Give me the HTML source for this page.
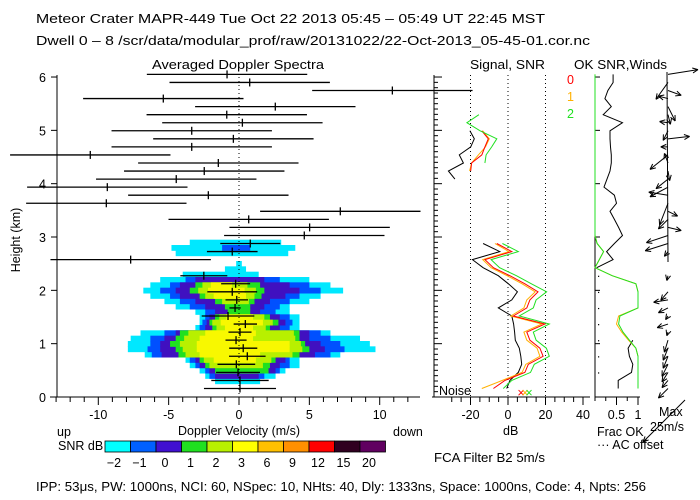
<!DOCTYPE html>
<html><head><meta charset="utf-8"><style>
body{margin:0;background:#fff}
svg{display:block;font-family:"Liberation Sans",sans-serif}
text{font-size:12.5px;fill:#000}
</style></head><body>
<svg id="c" width="700" height="500" viewBox="0 0 700 500">
<rect width="700" height="500" fill="#fff"/>
<text x="36" y="23" textLength="509" lengthAdjust="spacingAndGlyphs">Meteor Crater  MAPR-449  Tue Oct 22 2013 05:45 – 05:49 UT 22:45 MST</text>
<text x="36" y="45" textLength="554" lengthAdjust="spacingAndGlyphs">Dwell  0 –  8   /scr/data/modular_prof/raw/20131022/22-Oct-2013_05-45-01.cor.nc</text>
<text x="152" y="69" textLength="172" lengthAdjust="spacingAndGlyphs">Averaged Doppler Spectra</text>
<text x="470" y="69" textLength="75" lengthAdjust="spacingAndGlyphs">Signal, SNR</text>
<text x="574" y="69" textLength="93" lengthAdjust="spacingAndGlyphs">OK SNR,Winds</text>
<g id="heat"></g>
<g id="axes"></g>
<g id="bars"></g>
<g id="sig"></g>
<g id="wind"></g>
<g id="cbar"></g>
<text x="20" y="240" transform="rotate(-90 20 240)" text-anchor="middle">Height (km)</text>
<text x="178" y="435" textLength="122" lengthAdjust="spacingAndGlyphs">Doppler Velocity (m/s)</text>
<text x="57" y="436">up</text>
<text x="393" y="436">down</text>
<text x="58" y="450">SNR dB</text>
<text x="503" y="435">dB</text>
<text x="597" y="436">Frac OK</text>
<text x="597" y="449">··· AC offset</text>
<text x="659" y="416">Max</text>
<text x="650" y="431">25m/s</text>
<text x="434" y="462" textLength="111" lengthAdjust="spacingAndGlyphs">FCA Filter B2  5m/s</text>
<text x="36" y="491" textLength="610" lengthAdjust="spacingAndGlyphs">IPP:  53μs,  PW: 1000ns,  NCI:  60,  NSpec: 10, NHts: 40,  Dly: 1333ns,  Space: 1000ns,  Code: 4,  Npts: 256</text>
<text x="439" y="395">Noise</text>
<text x="567" y="84" style="fill:#f00">0</text>
<text x="567" y="101" style="fill:#ffb000">1</text>
<text x="567" y="118" style="fill:#20e020">2</text>
</svg>
<script>
// ---- data ----
const barCenter=[0.07,0.07,-0.07,-0.19,0.59,0.3,-0.21,0.07,0.45,-0.78,-0.28,-0.16,-0.48,-0.24,-2.5,null,-7.7,-0.48,0.8,4.64,5.02,0.69,7.2,-9.43,-2.18,-9.36,-4.46,-2.47,-1.47,-10.57,-3.36,-0.4,-3.36,0.24,-0.87,2.58,-5.38,10.9,0.76,-0.85];
const barHalf=[2.56,2.04,1.56,1.34,1.3,1.0,0.75,0.82,0.83,1.87,0.4,0.8,1.77,1.03,1.67,null,5.7,1.8,2.13,5.7,5.7,5.7,5.7,5.7,5.7,5.7,5.7,5.7,5.7,5.7,5.7,5.7,5.7,5.7,5.7,5.7,5.7,5.7,5.7,5.7];
const heatRows=[2.9,2.8,2.7,2.5,2.4,2.3,2.2,2.1,2.0,1.9,1.8,1.7,1.6,1.5,1.4,1.3,1.2,1.1,1.0,0.9,0.8,0.7,0.6,0.5,0.4,0.3];
const heatCyan=[[-3.5,3.0],[-4.8,4.0],[-4.5,3.5],[-0.2,0.2],[-1,0.5],[-4.0,1.4],[-5.6,5.0],[-6.3,6.5],[-6.8,7.4],[-6.3,5.8],[-5.3,5.0],[-4.5,3.6],[-3.1,3.6],[-2.8,4.3],[-2.8,4.3],[-3.1,4.3],[-7.0,6.5],[-7.7,8.6],[-7.9,9.3],[-7.9,9.7],[-6.7,7.2],[-3.8,4.3],[-3.5,4.3],[-2.8,3.3],[-2.4,2.6],[-1.7,1.5]];
const heatBlue=[null,[-1.2,0.8],null,null,null,null,[-3.8,2.9],[-4.9,5.0],[-5.6,5.8],[-4.9,4.3],[-4.2,3.6],[-3.5,2.9],[-2.4,2.6],[-2.4,3.6],[-2.6,3.8],[-2.8,3.6],[-5.3,5.8],[-6.3,6.5],[-6.3,7.2],[-6.5,7.5],[-6.2,6.5],[-3.5,3.6],[-3.1,3.6],[-2.4,2.9],[-2.1,1.8],null];
const heatPurple=[null,null,null,null,null,null,[-3.1,1.8],[-4.2,3.6],[-4.5,4.3],[-4.2,3.3],[-3.1,2.2],[-2.4,1.8],[-1.7,1.5],[-2.1,2.9],[-2.3,3.3],[-2.4,2.9],[-4.5,5.0],[-5.3,5.0],[-5.6,5.8],[-5.6,6.1],[-5.5,5.4],[-3.1,3.3],[-2.8,2.9],[-2.1,2.6],[-1.7,1.4],null];
const heatGreen=[null,null,null,null,null,null,null,[-3.1,1.5],[-3.5,1.8],[-2.8,1.6],[-1.7,1.1],[-1.0,0.8],[-0.8,0.8],[-1.7,2.2],[-2.1,2.8],[-1.9,2.2],[-4.2,4.3],[-4.5,4.3],[-4.9,4.7],[-4.5,5.0],[-4.3,4.3],[-2.8,2.6],[-2.4,2.2],[-1.7,2.1],null,null];
const heatLime=[null,null,null,null,null,null,null,[-2.6,0.6],[-2.9,1.2],[-2.4,1.1],[-1.2,0.7],null,null,[-1.4,1.8],[-1.9,2.4],[-1.6,1.9],[-3.6,3.9],[-3.9,4.0],[-4.2,4.4],[-4.0,4.5],[-3.8,3.8],[-2.5,2.3],[-2.1,1.7],null,null,null];
const heatYellow=[null,null,null,null,null,null,null,[-2.0,-0.5],[-2.2,0.4],[-1.8,0.5],null,null,null,[-0.9,1.0],[-1.3,1.7],[-1.0,1.0],[-2.4,1.2],[-2.8,1.0],[-3.0,3.6],[-3.0,3.6],[-2.8,1.5],[-1.8,1.2],null,null,null,null];
const N=null;
const sigBlack=[-0.7,1,5.5,7.3,6.8,6,3.9,3.5,3,2,-5.2,2,5,0.2,-5.2,-13.3,-19,-4.4,-13.3,N,N,N,N,N,N,N,-28.3,-31.8,-23.8,-26,-19.9,-18,-20.3,N,N,N,N,N,N,N];
const snrRed=[-7.8,-1.6,9,10.8,18.7,17,11.7,10,19.7,2.8,10,11.7,16,9,1,-7.8,-12.3,2,-6,N,N,N,N,N,N,N,N,-19.9,-19.4,-14,-12.3,-10.5,-14,N,N,N,N,N,N,N];
const snrOrange=[-14,-3,7.5,9.5,17,15.5,10,8.5,18,1.5,8.5,10,14.5,7.5,-0.5,-9,-13.5,0.5,-7,N,N,N,N,N,N,N,N,-20.5,-19.4,-15.8,-12,-10,-13.5,N,N,N,N,N,N,N];
const snrGreen=[-2.5,2,12,14,22,20.5,15,13.5,22,6,13.5,15,20.6,12.5,4.5,-4.5,-9,5.5,-3,N,N,N,N,N,N,N,N,N,-12.3,-11.7,-8.7,-6,-14.9,-21.9,-15.5,N,N,N,N,N];
const fracBlack=[0.54,0.54,0.85,0.88,0.8,0.77,0.88,N,N,N,N,N,N,N,N,0.04,0.42,0.27,0.45,0.64,0.55,0.45,0.35,0.5,0.45,0.21,0.28,0.35,0.38,0.38,0.36,0.35,0.35,0.64,0.19,0.38,0.23,0.3,0.42,0.42];
const fracGreen=[1,1,1,1,1,0.95,0.8,0.65,0.55,0.58,1,1,1,0.95,0.4,0,0.1,0.2,0.05,0,0,0,0,0,0,0,0,0,0,0,0,0,0,0,0,0,0,0,0,0];
const fracOrange=[1,1,1,1,1,0.95,0.78,0.62,0.5,0.55,1,1,1,0.95,0.4,0,0.1,0.2,0.05,0,0,0,0,0,0,0,0,0,0,0,0,0,0,0,0,0,0,0,0,0];
const windU=[-4,-2.5,-2.5,-2.5,-2,-2,-1.5,-0.5,-4.5,-1,-4,-6,-3,N,-0.5,N,N,-1.5,-9.5,-9,5.5,-4,4,-3.5,-8,-7.5,-5,0.7,-1.5,-7.5,-3,9,-2,-3.5,1,3,-4,5.5,-5,12.5];
const windV=[-4,-3,-4,-5,-5,-5,-5,-1.5,-1.5,-1.5,-2,-1,-3.5,N,-2,N,N,-2,-3,-3,-1.3,-4,-2,-9,1.3,-4,-4,-4,4,-6,0,1,-4,0.5,-4,-6,1,-2,-7,2];
const paletteLabels=["−2","−1","0","1","2","3","6","9","12","15","20"];
const paletteColors=["#00ffff","#0060ff","#4010d0","#20e020","#b8f000","#ffff00","#ffc000","#ff9000","#ff0000","#300020","#600060"];
const velTicks=[-10,-5,0,5,10];
const heightTicks=[0,1,2,3,4,5,6];
const dbTicks=[-20,0,20,40];
// ---- scales ----
const X=v=>239+v*14.07, Y=h=>397-h*53.33, H=i=>0.16+0.151*i;
const D=d=>508+d*1.875, F=f=>595+f*43;
const NS="http://www.w3.org/2000/svg";
function mk(p,t,a){const e=document.createElementNS(NS,t);for(const k in a)e.setAttribute(k,a[k]);p.appendChild(e);return e;}
const heat=document.getElementById('heat'),axes=document.getElementById('axes'),bars=document.getElementById('bars'),sig=document.getElementById('sig'),wind=document.getElementById('wind'),cbar=document.getElementById('cbar');
// heatmap
const levels=[[heatCyan,"#00e8ff"],[heatBlue,"#0050ff"],[heatPurple,"#4010c0"],[heatGreen,"#20e020"],[heatLime,"#b8f000"],[heatYellow,"#f8f800"]];
levels.forEach(([arr,col])=>{arr.forEach((r,k)=>{if(!r)return;const h=heatRows[k];
 const e=mk(heat,'rect',{x:X(r[0]),y:Y(h+0.05),width:X(r[1])-X(r[0]),height:53.33*0.1+0.5,fill:col});
 
 });});
// axes main
mk(axes,'line',{x1:57,y1:75,x2:57,y2:397,stroke:'#000'});
mk(axes,'line',{x1:50,y1:397,x2:420,y2:397,stroke:'#000'});
mk(axes,'line',{x1:239,y1:77,x2:239,y2:397,stroke:'#000','stroke-dasharray':'1,3'});
for(let v=-13;v<=12;v++){mk(axes,'line',{x1:X(v),y1:397,x2:X(v),y2:v%5==0?405:402,stroke:'#000'});}
velTicks.forEach(v=>{const t=mk(axes,'text',{x:X(v),y:419,'text-anchor':'middle'});t.textContent=v;
 
 });
heightTicks.forEach(h=>{mk(axes,'line',{x1:51,y1:Y(h),x2:57,y2:Y(h),stroke:'#000'});
 const t=mk(axes,'text',{x:46,y:Y(h)+5,'text-anchor':'end'});t.textContent=h;
 
 });
// error bars
barCenter.forEach((c,i)=>{if(c===null)return;const y=Y(H(i));
 const g=mk(bars,'g',{});
 
 
 mk(g,'line',{x1:Math.max(0,X(c-barHalf[i])),y1:y,x2:X(c+barHalf[i]),y2:y,stroke:'#000','stroke-width':1.3});
 mk(g,'line',{x1:X(c),y1:y-4,x2:X(c),y2:y+4,stroke:'#000','stroke-width':1.3});});
// signal panel
mk(sig,'line',{x1:434,y1:75,x2:434,y2:397,stroke:'#000'});
mk(sig,'line',{x1:432,y1:397,x2:590,y2:397,stroke:'#000'});
for(let h=0;h<=6.01;h+=0.1){const maj=Math.abs(h-Math.round(h))<0.01;mk(sig,'line',{x1:434,y1:Y(h),x2:maj?442:438,y2:Y(h),stroke:'#000'});}
for(let d=-30;d<=40;d+=5){mk(sig,'line',{x1:D(d),y1:397,x2:D(d),y2:d%20==0?405:402,stroke:'#000'});}
dbTicks.forEach(d=>{if(d<40)mk(sig,'line',{x1:D(d),y1:75,x2:D(d),y2:397,stroke:'#000','stroke-dasharray':'1,3'});
 const t=mk(sig,'text',{x:D(d),y:419,'text-anchor':'middle'});t.textContent=d;
 
 });
function series(par,arr,sx,col,name){let d='',pen=false;arr.forEach((v,i)=>{if(v===null){pen=false;return;}d+=(pen?'L':'M')+sx(v).toFixed(1)+' '+Y(H(i)).toFixed(1);pen=true;});
 const e=mk(par,'path',{d:d,fill:'none',stroke:col,'stroke-width':1});
 
 }
series(sig,sigBlack,D,'#000','signal-line');
series(sig,snrOrange,D,'#ffb000','snr-line-1');
series(sig,snrRed,D,'#ff0000','snr-line-0');
series(sig,snrGreen,D,'#20e020','snr-line-2');
[['#ff0000',521],['#ffb000',525],['#20e020',529]].forEach(([c,x])=>{const t=mk(sig,'text',{x:x,y:397,'text-anchor':'middle',style:'fill:'+c});t.textContent='×';});
// winds panel
mk(wind,'line',{x1:595,y1:75,x2:595,y2:397,stroke:'#000'});
mk(wind,'line',{x1:595,y1:397,x2:640,y2:397,stroke:'#000'});
heightTicks.forEach(h=>mk(wind,'line',{x1:595,y1:Y(h),x2:600,y2:Y(h),stroke:'#000'}));
[0,0.25,0.5,0.75,1].forEach(f=>mk(wind,'line',{x1:F(f),y1:397,x2:F(f),y2:f==0.5||f==1?405:401,stroke:'#000'}));
[[0.5,'0.5'],[1,'1']].forEach(([f,s])=>{const t=mk(wind,'text',{x:F(f),y:419,'text-anchor':'middle'});t.textContent=s;});
series(wind,fracBlack,F,'#000','frac-ok-black');
series(wind,fracOrange,F,'#ffb000','frac-ok-1');
series(wind,fracGreen,F,'#20e020','frac-ok-2');
[2,4,6,8,10,12,14].forEach(i=>mk(wind,'rect',{x:598,y:Y(H(i)),width:1.2,height:1.2,fill:'#000'}));
mk(wind,'line',{x1:667,y1:72,x2:668,y2:262,stroke:'#000'});
function arrow(x,y,dx,dy,name){const g=mk(wind,'g',{});
 
 
 const x2=x+dx,y2=y+dy;mk(g,'line',{x1:x,y1:y,x2:x2,y2:y2,stroke:'#000'});
 const a=Math.atan2(dy,dx);[2.6,-2.6].forEach(o=>mk(g,'line',{x1:x2,y1:y2,x2:x2-6*Math.cos(a+o/6),y2:y2-6*Math.sin(a+o/6),stroke:'#000'}));}
windU.forEach((u,i)=>{if(u===null)return;arrow(668,Y(H(i)),u*2.4,-windV[i]*2.4,'wind-arrow');});
arrow(685,400,-42,42,'max-wind-arrow');
// colorbar
paletteColors.forEach((c,k)=>{const w=25.5,x=105+k*w;
 const r=mk(cbar,'rect',{x:x,y:441,width:w,height:11,fill:c,stroke:'#000','stroke-width':0.8});
 
 
 const t=mk(cbar,'text',{x:x+9,y:467,'text-anchor':'middle'});t.textContent=paletteLabels[k];
 
 });
</script>
</body></html>
